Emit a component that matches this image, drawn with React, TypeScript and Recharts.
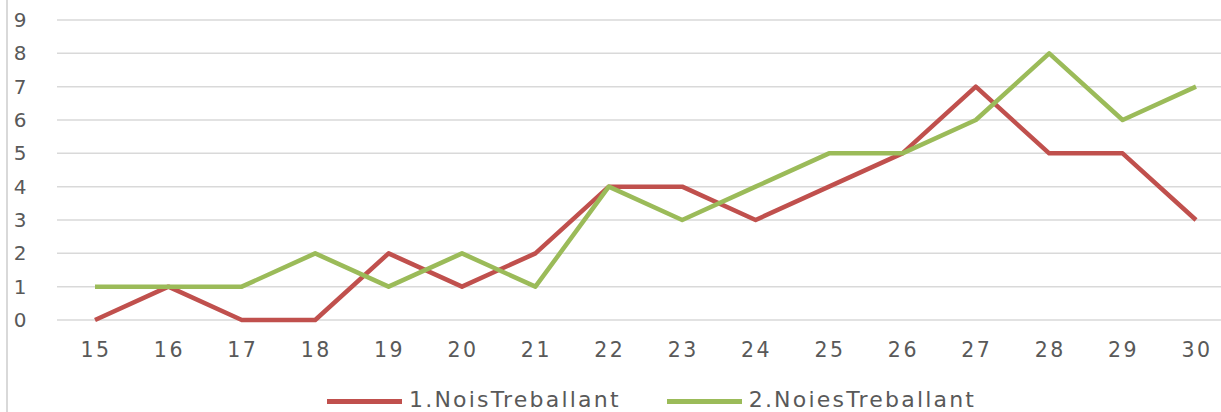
import { LineChart, Line, XAxis, YAxis, CartesianGrid } from "recharts";

// ─── Data ────────────────────────────────────────────────────────────────────

const days = ["15", "16", "17", "18", "19", "20", "21", "22", "23", "24", "25", "26", "27", "28", "29", "30"];
const nois = [0, 1, 0, 0, 2, 1, 2, 4, 4, 3, 4, 5, 7, 5, 5, 3];
const noies = [1, 1, 1, 2, 1, 2, 1, 4, 3, 4, 5, 5, 6, 8, 6, 7];
const yTicks = [0, 1, 2, 3, 4, 5, 6, 7, 8, 9];

const series = [
  { key: "nois", name: "1.NoisTreballant", color: "#C0504D" },
  { key: "noies", name: "2.NoiesTreballant", color: "#9BBB59" },
];

const rows = days.map((d, i) => ({ day: d, nois: nois[i], noies: noies[i] }));

const FONT = "'DejaVu Sans', sans-serif";
const TEXT = "#595959";

// custom ticks so labels sit where the Excel original puts them
function YTick({ y, payload }: { y?: number; payload?: { value: number } }) {
  return (
    <text x={20} y={y} dy={7} textAnchor="middle" fontFamily={FONT} fontSize={20} fill={TEXT}>
      {payload?.value}
    </text>
  );
}

function XTick({ x, y, payload }: { x?: number; y?: number; payload?: { value: string } }) {
  return (
    <text
      x={(x ?? 0) + 1}
      y={(y ?? 0) + 37}
      textAnchor="middle"
      fontFamily={FONT}
      fontSize={20.5}
      letterSpacing={2.5}
      fill={TEXT}
    >
      {payload?.value}
    </text>
  );
}

export default function App() {
  return (
    <div
      style={{
        position: "absolute",
        left: 0,
        top: 0,
        width: 1221,
        height: 412,
        overflow: "hidden",
        background: "#fff",
      }}
    >
      {/* chart frame edge */}
      <div style={{ position: "absolute", left: 6, top: 0, width: 2, height: 412, background: "#d9d9d9" }} />

      <LineChart width={1221} height={412} data={rows} margin={{ top: 20, right: 0, bottom: 0, left: 0 }}>
        <CartesianGrid vertical={false} stroke="#d9d9d9" strokeWidth={1.5} />
        <XAxis
          dataKey="day"
          height={92}
          axisLine={false}
          tickLine={false}
          tickSize={0}
          tickMargin={0}
          interval={0}
          padding={{ left: 38, right: 25 }}
          tick={<XTick />}
        />
        <YAxis
          width={57}
          domain={[0, 9]}
          ticks={yTicks}
          interval={0}
          axisLine={false}
          tickLine={false}
          tick={<YTick />}
        />
        {series.map((s) => (
          <Line
            key={s.key}
            type="linear"
            dataKey={s.key}
            name={s.name}
            stroke={s.color}
            strokeWidth={4.5}
            strokeLinejoin="round"
            dot={false}
            activeDot={false}
            isAnimationActive={false}
          />
        ))}
      </LineChart>

      {/* Legend */}
      <div style={{ position: "absolute", left: 327, top: 389, display: "flex", alignItems: "center" }}>
        {series.map((s, i) => (
          <div key={s.key} style={{ display: "flex", alignItems: "center", marginRight: i === 0 ? 46 : 0 }}>
            <div style={{ width: 75, height: 5, background: s.color, marginRight: 7, marginTop: 2 }} />
            <span
              style={{
                fontFamily: FONT,
                fontSize: 22,
                letterSpacing: 2.2,
                color: TEXT,
                lineHeight: "22px",
              }}
            >
              {s.name}
            </span>
          </div>
        ))}
      </div>
    </div>
  );
}
